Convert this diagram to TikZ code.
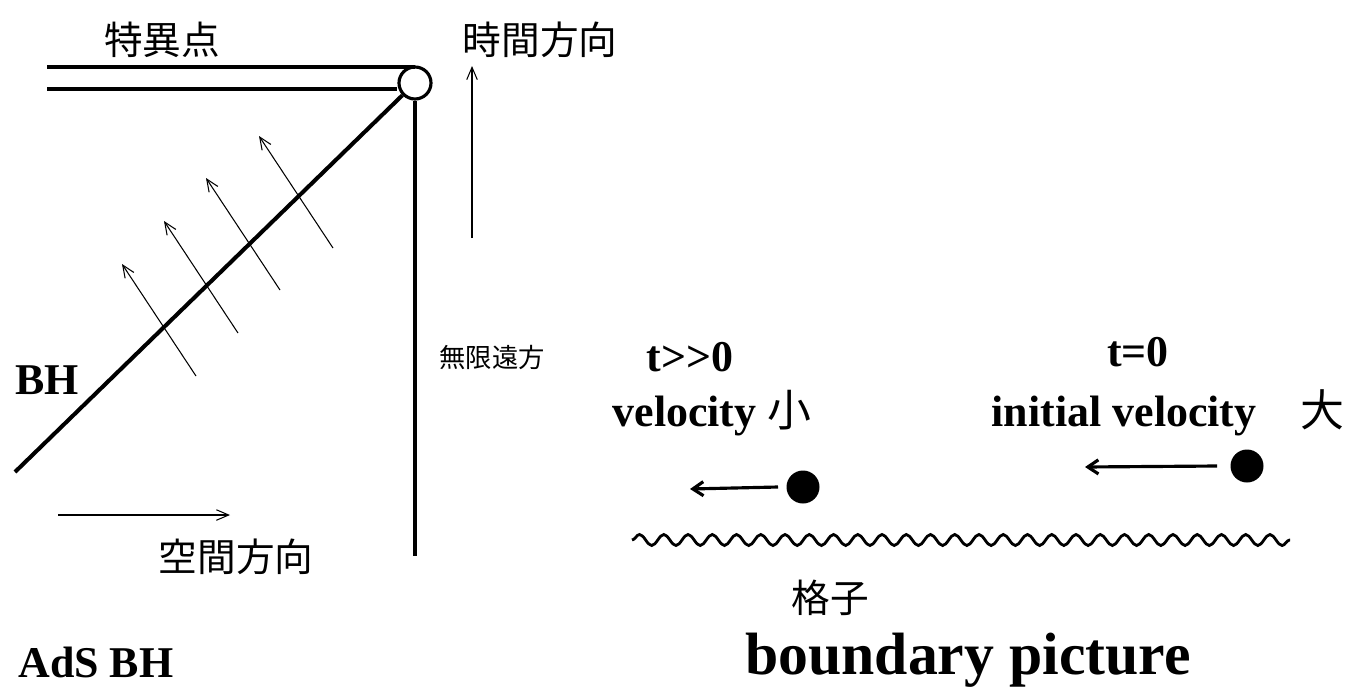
\documentclass[tikz,border=0pt]{standalone}
\usepackage{fontspec}
\setmainfont{Liberation Serif}
\newfontfamily\jp{Noto Sans CJK JP}
\usetikzlibrary{positioning, arrows.meta, decorations.pathmorphing}

\begin{document}
\begin{tikzpicture}[
    x=0.02cm, y=-0.02cm,
    wall/.style={line width=2.3pt, line cap=butt},
    flow/.style={line width=0.6pt, -{Straight Barb[length=7pt, width=6pt]}},
    move/.style={line width=1.8pt, -{Straight Barb[length=6pt, width=8pt, line width=1.8pt]}},
    jlbl/.style={font=\jp\fontsize{22}{26}\selectfont, inner sep=0pt},
    elbl/.style={font=\bfseries\fontsize{25}{30}\selectfont, inner sep=0pt},
    ball/.style={circle, fill=black, minimum size=0.66cm, inner sep=0pt},
]
\useasboundingbox (0,0) rectangle (1352,690);

% AdS black hole side
\node[circle, draw, line width=1.8pt, minimum size=0.64cm, inner sep=0pt] (sing) at (415,83) {};
\coordinate (sg1) at (47,67);
\coordinate (sg2) at (47,89);
\coordinate (bh0) at (15,472);
\coordinate (inf) at (415,556);

\draw[wall] (sg1) -- (sg1 -| sing.north);
\draw[wall] (sg2) -- (sg2 -| sing.west);
\draw[wall] (bh0) -- (sing);
\draw[wall] (sing.south) -- (inf);

% infalling arrows across the horizon
\foreach \tx/\ty [count=\i] in {333/248, 280/290, 238/333, 196/376}
    \draw[flow] (\tx,\ty) coordinate (fa\i) -- ++(-74,-112);

% axes
\coordinate (tax) at (472,238);
\coordinate (sax) at (58,515);
\draw[flow] (tax) -- ++(0,-172);
\draw[flow] (sax) -- ++(172,0);

\node[jlbl] (singlbl) at (162,40) {特異点};
\node[jlbl] (timelbl) at (540,40) {時間方向};
\node[jlbl] (spacelbl) at (236,557) {空間方向};
\node[jlbl, font=\jp\fontsize{15}{18}\selectfont] (inflbl) at (492,357) {無限遠方};
\node[elbl] (bhlbl) at (47,380) {BH};
\node[elbl, anchor=west] (adslbl) at (18,662) {AdS BH};

% boundary picture
\node[ball] (late) at (803,487) {};
\node[ball] (early) at (1247,466) {};
\coordinate (lateto) at (690,489);
\coordinate (earlyto) at (1085,467);
\draw[move] ([xshift=-0.5cm]late.center) -- (lateto);
\draw[move] ([xshift=-0.6cm]early.center) -- (earlyto);

\coordinate (lat0) at (632,540);
\coordinate (lat1) at (1290,540);
\draw[line width=1.6pt, decorate,
      decoration={snake, segment length=0.485cm, amplitude=0.11cm}] (lat0) -- (lat1);

\node[elbl] (tlate) at (690,357) {t>\kern0pt>0};
\node[elbl] (tearly) at (1138,352) {t=0};
\node[elbl] (vlate) at (712,413) {velocity {\jp\mdseries 小}};
\node[elbl] (vearly) at (1168,413) {initial velocity\quad{\jp\mdseries 大}};
\node[jlbl] (latlbl) at (830,598) {格子};
\node[elbl, font=\bfseries\fontsize{34}{40}\selectfont] (bdylbl) at (968,660) {boundary picture};

\end{tikzpicture}
\end{document}
